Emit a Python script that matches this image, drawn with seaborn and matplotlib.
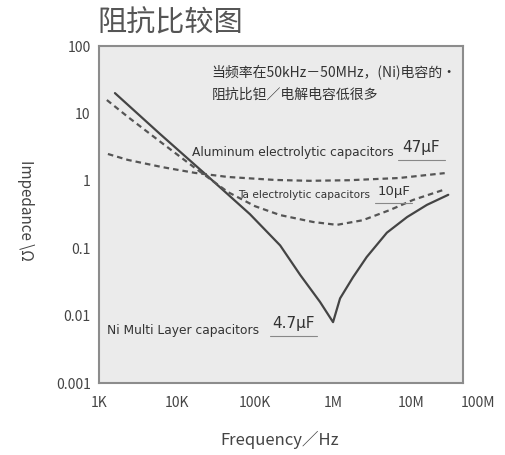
import matplotlib
matplotlib.use("Agg")
import matplotlib.pyplot as plt
import matplotlib.ticker as mticker
import seaborn as sns

# 读图得到的曲线数据 (频率 Hz, 阻抗 Ω)
ni_freq = [1.6e3, 6.0e3, 23e3, 86e3, 210e3, 380e3, 680e3, 1.0e6,
           1.23e6, 1.8e6, 2.7e6, 4.9e6, 8.9e6, 16e6, 30e6]
ni_z = [20, 5.0, 1.26, 0.32, 0.11, 0.040, 0.016, 0.008,
        0.018, 0.037, 0.074, 0.17, 0.29, 0.44, 0.62]

ta_freq = [1.26e3, 2.35e3, 6.4e3, 17e3, 45e3, 100e3, 210e3, 555e3,
           1.12e6, 2.4e6, 5.4e6, 10.6e6, 25.7e6]
ta_z = [15.8, 8.85, 3.64, 1.55, 0.68, 0.42, 0.31, 0.245,
        0.222, 0.26, 0.37, 0.52, 0.73]

al_freq = [1.3e3, 2.35e3, 6.4e3, 17e3, 45e3, 180e3, 500e3, 1.6e6, 7e6, 27e6]
al_z = [2.5, 2.04, 1.6, 1.31, 1.14, 1.03, 1.0, 1.02, 1.1, 1.3]

x_ticks = [1e3, 1e4, 1e5, 1e6, 1e7]
x_labels = ["1K", "10K", "100K", "1M", "10M"]
y_ticks = [1e-3, 1e-2, 1e-1, 1, 10, 100]
y_labels = ["0.001", "0.01", "0.1", "1", "10", "100"]

sns.set_style("white", {"axes.facecolor": "#ebebeb", "axes.edgecolor": "#8c8c8c"})
plt.rcParams['font.family'] = ['Noto Sans CJK SC', 'DejaVu Sans']

fig = plt.figure(figsize=(5.06, 4.55), dpi=100)
ax = fig.add_axes([0.1957, 0.1582, 0.7194, 0.7407])

# 三条阻抗曲线
sns.lineplot(x=ni_freq, y=ni_z, ax=ax, color="#444444", lw=1.6,
             estimator=None, sort=False)
sns.lineplot(x=ta_freq, y=ta_z, ax=ax, color="#555555", lw=1.6,
             estimator=None, sort=False, dashes=False, linestyle=(0, (2.5, 1.8)))
sns.lineplot(x=al_freq, y=al_z, ax=ax, color="#555555", lw=1.6,
             estimator=None, sort=False, dashes=False, linestyle=(0, (2.5, 1.8)))

ax.set_xscale("log")
ax.set_yscale("log")
ax.set_xlim(1e3, 4.64e7)
ax.set_ylim(1e-3, 1e2)

ax.set_xticks(x_ticks, x_labels)
ax.set_yticks(y_ticks, y_labels)
ax.xaxis.set_minor_locator(mticker.LogLocator(subs=[5]))
ax.yaxis.set_minor_locator(mticker.LogLocator(subs=[5]))
ax.xaxis.set_minor_formatter(mticker.NullFormatter())
ax.yaxis.set_minor_formatter(mticker.NullFormatter())
ax.tick_params(which="both", direction="in", color="#8c8c8c", width=1.2,
               labelcolor="#444444", labelsize=10)
ax.tick_params(axis="x", which="major", length=5, pad=9)
ax.tick_params(axis="x", which="minor", length=4)
ax.tick_params(axis="y", which="major", length=8, pad=6)
ax.tick_params(axis="y", which="minor", length=6)
for sp in ax.spines.values():
    sp.set_linewidth(1.5)

ax.annotate("100M", xy=(1.041, 0), xycoords="axes fraction",
            xytext=(0, -9), textcoords="offset points",
            ha="center", va="top", fontsize=10, color="#444444")

ax.set_xlabel("Frequency／Hz", fontsize=12, color="#444444")
ax.set_ylabel("Impedance \\Ω", fontsize=11, color="#444444", rotation=-90)
ax.xaxis.set_label_coords(0.497, -0.142)
ax.yaxis.set_label_coords(-0.225, 0.513)

# 标题
fig.text(97 / 506, 1 - 23 / 455, "阻抗比较图", fontsize=21,
         color="#555555", va="center", ha="left")

# 说明文字
ax.text(0.310, 0.923, "当频率在50kHz－50MHz，(Ni)电容的·", transform=ax.transAxes,
        fontsize=10, color="#333333", va="center")
ax.text(0.310, 0.855, "阻抗比钽／电解电容低很多", transform=ax.transAxes,
        fontsize=10, color="#333333", va="center")

# 曲线标签
labels = [
    (0.255, 0.685, "Aluminum electrolytic capacitors", 8.8, 0.832, 0.700, "47µF", 11, 0.822, 0.951, 0.662),
    (0.382, 0.558, "Ta electrolytic capacitors", 7.6, 0.766, 0.567, "10µF", 9.5, 0.758, 0.860, 0.534),
    (0.022, 0.157, "Ni Multi Layer capacitors", 8.8, 0.475, 0.178, "4.7µF", 11, 0.470, 0.600, 0.139),
]
for x, y, txt, fs, vx, vy, val, vfs, u0, u1, uy in labels:
    ax.text(x, y, txt, transform=ax.transAxes, fontsize=fs, color="#333333",
            va="center", family="DejaVu Sans")
    ax.text(vx, vy, val, transform=ax.transAxes, fontsize=vfs, color="#333333",
            va="center", family="DejaVu Sans")
    ax.plot([u0, u1], [uy, uy], transform=ax.transAxes, color="#888888", lw=0.8)

fig.savefig("out.png", dpi=100, facecolor="white")
